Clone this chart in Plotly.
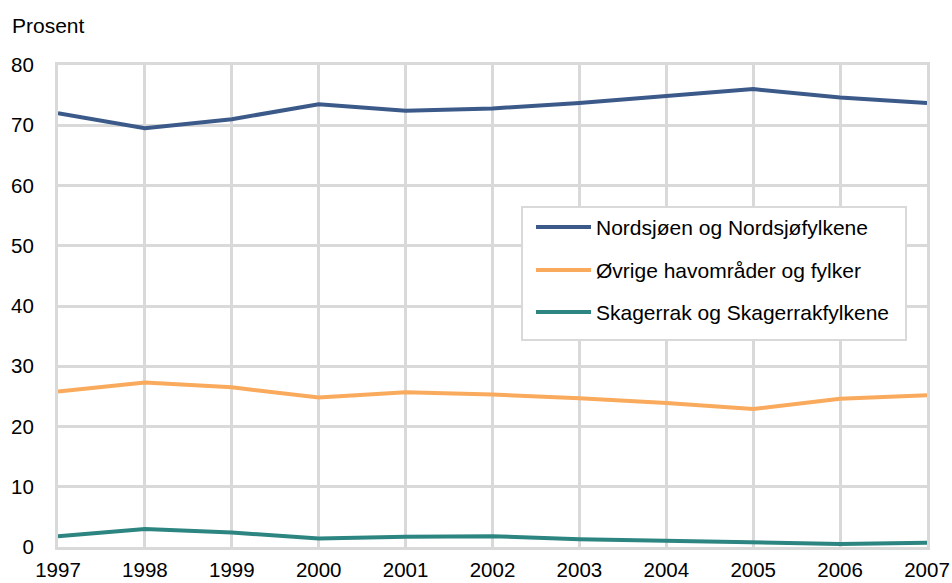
import plotly.graph_objects as go

years = [1997, 1998, 1999, 2000, 2001, 2002, 2003, 2004, 2005, 2006, 2007]
series_names = ["Nordsjøen og Nordsjøfylkene", "Øvrige havområder og fylker", "Skagerrak og Skagerrakfylkene"]
nordsjoen = [72.0, 69.5, 71.0, 73.5, 72.4, 72.8, 73.7, 74.9, 76.0, 74.6, 73.7]
ovrige = [25.8, 27.3, 26.5, 24.8, 25.7, 25.3, 24.7, 23.9, 22.9, 24.6, 25.2]
skagerrak = [1.8, 3.0, 2.4, 1.4, 1.7, 1.8, 1.3, 1.0, 0.7, 0.5, 0.7]
colors = ["#3b5a89", "#f9aa5c", "#2c8580"]
y_ticks = [0, 10, 20, 30, 40, 50, 60, 70, 80]

fig = go.Figure()
for name, vals, col in zip(series_names, [nordsjoen, ovrige, skagerrak], colors):
    fig.add_trace(go.Scatter(x=years, y=vals, mode="lines", name=name,
                             line=dict(color=col, width=4), showlegend=False))

font = dict(family="Liberation Sans, Arial, sans-serif", size=20.5, color="#000000")
tfont = dict(family="Liberation Sans, Arial, sans-serif", size=21, color="#000000")
grid = "#d9d9d9"

fig.update_layout(
    width=952, height=583,
    margin=dict(l=58, r=25, t=65, b=36, autoexpand=False),
    paper_bgcolor="white", plot_bgcolor="white",
    font=font,
    xaxis=dict(range=[1997, 2007], tickvals=years, ticktext=[str(y) for y in years],
               showgrid=True, gridcolor=grid, gridwidth=3, zeroline=False,
               showline=True, linecolor=grid, linewidth=3, mirror=True,
               ticks="", ticklabelstandoff=2, fixedrange=True, automargin=False),
    yaxis=dict(range=[0, 80], tickvals=y_ticks,
               showgrid=True, gridcolor=grid, gridwidth=3, zeroline=False,
               showline=True, linecolor=grid, linewidth=3, mirror=True,
               ticks="", ticklabelstandoff=17, fixedrange=True, automargin=False),
    showlegend=False,
)

pw, ph = 869.0, 482.0
def px(xp):
    return (xp - 58) / pw
def py(yp):
    return (547 - yp) / ph

fig.add_annotation(text="Prosent", xref="paper", yref="paper", x=px(10), y=py(25),
                   xanchor="left", yanchor="middle", showarrow=False, font=tfont)

# manual legend box
fig.add_shape(type="rect", xref="paper", yref="paper",
              x0=px(522), x1=px(906), y0=py(340), y1=py(207),
              line=dict(color=grid, width=2), fillcolor="white", layer="above")
legend_y = [227, 270, 312]
for name, col, ly in zip(series_names, colors, legend_y):
    fig.add_shape(type="line", xref="paper", yref="paper",
                  x0=px(536), x1=px(591), y0=py(ly), y1=py(ly),
                  line=dict(color=col, width=4), layer="above")
    fig.add_annotation(text=name, xref="paper", yref="paper", x=px(597), y=py(ly),
                       xanchor="left", yanchor="middle", showarrow=False, font=tfont,
                       xshift=-3)

fig.write_html("out.html", config={"displayModeBar": False},
               post_script="document.body.style.margin='0';")
